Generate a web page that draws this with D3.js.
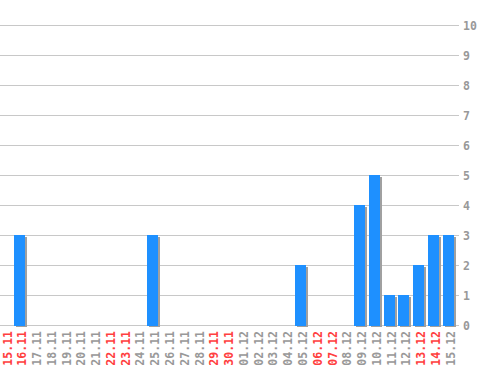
<!DOCTYPE html>
<html>
<head>
<meta charset="utf-8">
<script src="https://cdn.jsdelivr.net/npm/d3@7"></script>
<style>
  body { margin: 0; background: #fff; }
  text { font-family: "DejaVu Sans Mono", "Liberation Mono", monospace; font-weight: bold; font-size: 11.5px; }
</style>
</head>
<body>
<div id="chart"></div>
<script>
// days shown on the x axis
var days = ["15.11", "16.11", "17.11", "18.11", "19.11", "20.11", "21.11", "22.11", "23.11", "24.11",
    "25.11", "26.11", "27.11", "28.11", "29.11", "30.11", "01.12", "02.12", "03.12", "04.12",
    "05.12", "06.12", "07.12", "08.12", "09.12", "10.12", "11.12", "12.12", "13.12", "14.12", "15.12"];
var counts = [0, 3, 0, 0, 0, 0, 0, 0, 0, 0,
    3, 0, 0, 0, 0, 0, 0, 0, 0, 0,
    2, 0, 0, 0, 4, 5, 1, 1, 2, 3, 3];
// weekend days are drawn in red
var weekends = ["15.11", "16.11", "22.11", "23.11", "29.11", "30.11", "06.12", "07.12", "13.12", "14.12"];
var yTicks = [0, 1, 2, 3, 4, 5, 6, 7, 8, 9, 10];

var width = 498;
var height = 370;
var svg = d3.select('#chart')
    .append("svg")
    .attr("width", width)
    .attr("height", height);

var plotWidth = 458;
var plotTop = 25, plotBottom = 325;

var xScale = d3.scaleBand()
    .domain(days)
    .range([0, plotWidth]);
var yScale = d3.scaleLinear()
    .domain([0, 10])
    .range([plotBottom, plotTop]);
var barWidth = 11;

// grid lines + right side labels
var grid = svg.append('g').classed('grid', true);
grid.selectAll('line')
    .data(yTicks)
    .enter()
    .append('line')
    .attr('x1', 0)
    .attr('x2', plotWidth + 1)
    .attr('y1', function (d) { return yScale(d) + 0.5; })
    .attr('y2', function (d) { return yScale(d) + 0.5; })
    .style('stroke', '#c8c8c8')
    .style('stroke-width', 1);
grid.selectAll('text')
    .data(yTicks)
    .enter()
    .append('text')
    .attr('x', plotWidth + 5)
    .attr('y', function (d) { return yScale(d) + 5; })
    .style('fill', '#999')
    .text(function (d) { return d; });

var bars = svg.append('g').classed('bars', true);
var data = days.map(function (d, i) { return { day: d, value: counts[i] }; });

// shadows first
bars.selectAll('.shadow')
    .data(data)
    .enter()
    .append('rect')
    .classed('shadow', true)
    .attr('x', function (d) { return Math.floor(xScale(d.day)) + 2; })
    .attr('y', function (d) { return yScale(d.value) + 2; })
    .attr('width', barWidth)
    .attr('height', function (d) { return plotBottom - yScale(d.value); })
    .style('fill', '#a0a0a0');
bars.selectAll('.bar')
    .data(data.filter(function (d) { return d.value > 0; }))
    .enter()
    .append('rect')
    .classed('bar', true)
    .attr('x', function (d) { return Math.floor(xScale(d.day)); })
    .attr('y', function (d) { return yScale(d.value); })
    .attr('width', barWidth)
    .attr('height', function (d) { return plotBottom - yScale(d.value) + 1; })
    .style('fill', '#1e90ff');

// rotated day labels
svg.append('g').classed('labels', true)
    .selectAll('text')
    .data(days)
    .enter()
    .append('text')
    .attr('transform', function (d) {
        return "translate(" + (Math.floor(xScale(d)) + 12) + ", 331) rotate(-90)";
    })
    .attr('text-anchor', 'end')
    .style('fill', function (d) { return weekends.indexOf(d) >= 0 ? '#ff4040' : '#999'; })
    .text(function (d) { return d; });
</script>
</body>
</html>
